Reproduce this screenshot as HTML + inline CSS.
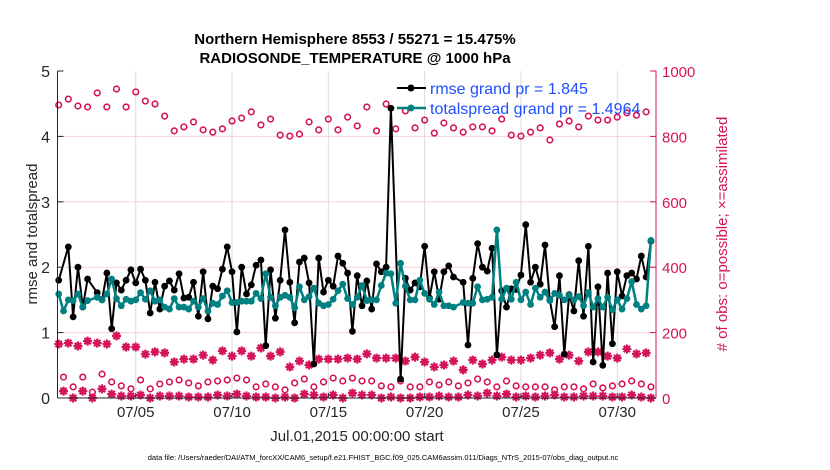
<!DOCTYPE html>
<html><head><meta charset="utf-8"><style>
html,body{margin:0;padding:0;background:#fff;}
svg{display:block;font-family:"Liberation Sans",sans-serif;}
</style></head><body>
<svg id="chart" width="830" height="470" viewBox="0 0 830 470">
<g id="grid"></g>
<g id="obs"></g>
<g id="lines"></g>
<g id="axes"></g>
<text x="355" y="44" text-anchor="middle" font-size="15" font-weight="bold">Northern Hemisphere 8553 / 55271 = 15.475%</text>
<text x="355" y="63" text-anchor="middle" font-size="15" font-weight="bold">RADIOSONDE_TEMPERATURE @ 1000 hPa</text>
<text x="357" y="441" text-anchor="middle" font-size="15" fill="#262626">Jul.01,2015 00:00:00 start</text>
<text transform="translate(37,234) rotate(-90)" text-anchor="middle" font-size="15" fill="#262626">rmse and totalspread</text>
<text transform="translate(727,234) rotate(-90)" text-anchor="middle" font-size="15" fill="#d4145a"># of obs: o=possible; ×=assimilated</text>
<text x="383" y="460" text-anchor="middle" font-size="7.5" fill="#000">data file: /Users/raeder/DAI/ATM_forcXX/CAM6_setup/f.e21.FHIST_BGC.f09_025.CAM6assim.011/Diags_NTrS_2015-07/obs_diag_output.nc</text>
<g>
<g>
<line x1="397" y1="88" x2="426" y2="88" stroke="#000" stroke-width="2"/><circle cx="411" cy="88" r="3.5" fill="#000"/>
<text x="430" y="94" font-size="16" fill="#1f4fff">rmse grand pr = 1.845</text></g>
<g>
<line x1="397" y1="108" x2="426" y2="108" stroke="#008080" stroke-width="2.5"/><circle cx="411" cy="108" r="3.5" fill="#008080"/>
<text x="430" y="114" font-size="16" fill="#1f4fff">totalspread grand pr = 1.4964</text></g>
</g>
</svg>
<script>
const xTickLabels = ["07/05","07/10","07/15","07/20","07/25","07/30"];
const xTickDays = [4,9,14,19,24,29];
const leftTicks = [0,1,2,3,4,5];
const rightTicks = [0,200,400,600,800,1000];
const rmse = [1.80,null,2.31,1.24,2.0,1.39,1.82,null,1.61,1.5,1.91,1.06,1.76,1.65,1.8,1.96,1.76,1.97,1.8,1.3,1.77,1.36,1.71,1.79,1.65,1.9,1.53,1.54,1.77,1.25,1.93,1.21,1.71,1.67,1.97,2.31,1.93,1.01,2.0,1.59,1.73,2.03,2.11,0.8,1.96,1.22,1.8,2.57,1.77,1.15,2.08,2.14,1.76,0.52,2.14,1.62,1.8,1.71,2.17,2.06,1.91,1.02,1.87,1.41,1.79,1.36,2.05,1.93,2.0,4.43,null,0.29,1.83,1.65,1.76,1.7,2.32,1.53,1.93,1.51,1.93,2.02,1.85,null,1.77,0.81,1.83,2.36,2.0,1.94,2.29,0.66,1.64,1.39,1.67,1.66,1.88,2.65,1.77,2.0,1.74,2.34,1.5,1.09,1.87,0.67,1.58,1.33,2.1,1.25,2.32,0.55,1.7,0.5,1.91,0.83,1.93,1.56,1.87,1.91,1.82,2.17,1.85,2.4];
const spread = [1.59,1.33,1.5,1.49,1.59,1.39,1.49,null,1.54,1.5,1.59,1.82,1.52,1.41,1.51,1.48,1.5,1.61,1.51,1.64,1.48,1.5,1.39,1.36,1.52,1.39,1.39,1.36,1.48,1.39,1.52,1.33,1.45,1.43,1.56,1.64,1.46,1.46,1.48,1.48,1.48,1.6,1.52,1.9,1.54,1.41,1.54,1.57,1.54,1.38,1.7,1.5,1.55,1.68,1.45,1.41,1.43,1.51,1.64,1.74,1.52,1.43,1.54,1.72,1.49,1.5,1.5,1.72,1.91,1.9,1.45,2.06,1.71,1.5,1.5,1.8,1.6,1.51,1.43,1.62,1.41,1.41,1.39,null,1.46,1.45,1.45,1.7,1.5,1.51,1.54,2.57,1.51,1.68,1.51,1.77,1.5,1.62,1.43,1.68,1.54,1.62,1.49,1.6,1.57,1.5,1.57,1.5,1.55,1.41,1.61,1.39,1.52,1.39,1.54,1.35,1.5,1.36,1.52,1.78,1.43,1.36,1.41,2.41];
// synoptic times (00/12Z, even samples) and off-synoptic (06/18Z, odd samples)
const possSyn = [896,914,893,890,933,890,945,890,936,908,899,862,817,829,844,820,813,823,847,856,875,835,853,804,801,807,844,820,853,820,859,832,890,817,899,823,878,826,850,810,841,826,813,829,829,817,853,804,801,813,826,789,838,847,829,862,850,850,859,872,865,875];
const assimSyn = [165,168,159,174,168,165,190,156,156,134,141,138,110,119,119,131,116,144,128,144,128,153,128,141,95,113,101,119,119,119,122,119,135,122,122,122,113,125,110,95,101,113,86,116,104,116,125,116,116,122,131,138,119,131,113,141,141,128,122,150,135,138];
const possOff = [64,34,64,18,73,49,37,28,55,28,43,49,55,46,37,49,52,55,61,55,34,43,34,25,46,58,34,49,61,52,61,52,52,37,34,52,34,34,49,40,49,37,46,58,49,34,52,37,34,34,34,25,34,34,28,43,31,37,43,52,43,34];
const assimOff = [21,0,21,0,28,12,6,6,9,0,6,6,6,3,3,3,9,6,12,6,3,3,0,3,0,12,9,3,9,0,15,9,9,0,3,0,0,3,3,6,3,3,9,6,15,6,12,3,6,3,6,9,3,3,6,6,6,3,3,9,3,0];

const NS="http://www.w3.org/2000/svg";
const L=57.5,R=656,T=71,B=398;
const xDay=d=>58.7+19.26*d;
const xIdx=i=>xDay(i*0.25);
const yL=v=>B-(v/5)*(B-T);
const yR=v=>B-(v/1000)*(B-T);
const PINK="#d4145a";
function mk(tag,attrs,parent){const e=document.createElementNS(NS,tag);for(const k in attrs)e.setAttribute(k,attrs[k]);parent.appendChild(e);return e;}
const grid=document.getElementById('grid'),obs=document.getElementById('obs'),lines=document.getElementById('lines'),axes=document.getElementById('axes');

xTickDays.forEach((d,k)=>{
  const gl=mk('line',{x1:xDay(d),x2:xDay(d),y1:T,y2:B,stroke:'#dcdcdc','stroke-width':1},grid);
  
  
  const tk=mk('line',{x1:xDay(d),x2:xDay(d),y1:B,y2:B-5,stroke:'#262626','stroke-width':1},axes);
  
  
  const t=mk('text',{x:xDay(d),y:417,'text-anchor':'middle','font-size':15,fill:'#262626'},axes);
  t.textContent=xTickLabels[k];
  
  
});
rightTicks.forEach(v=>{
  if(v>0&&v<1000){const gl=mk('line',{x1:L,x2:R,y1:yR(v),y2:yR(v),stroke:'#f2d3de','stroke-width':1},grid);
  
  }
  const tk=mk('line',{x1:R,x2:R-6,y1:yR(v),y2:yR(v),stroke:PINK,'stroke-width':1},axes);
  
  
  const t=mk('text',{x:662,y:yR(v)+6,'font-size':15,fill:PINK},axes);
  t.textContent=v;
  
  
});
leftTicks.forEach(v=>{
  const tk=mk('line',{x1:L,x2:L+6,y1:yL(v),y2:yL(v),stroke:'#262626','stroke-width':1},axes);
  
  
  const t=mk('text',{x:50,y:yL(v)+6,'text-anchor':'end','font-size':16,fill:'#262626'},axes);
  t.textContent=v;
  
  
});
const ax1=mk('line',{x1:L,x2:L,y1:T,y2:B,stroke:'#262626','stroke-width':1},axes);


const ax2=mk('line',{x1:L,x2:R,y1:B,y2:B,stroke:'#262626','stroke-width':1},axes);


const ax3=mk('line',{x1:R,x2:R,y1:T,y2:B,stroke:PINK,'stroke-width':1},axes);



function circ(x,y){const c=mk('circle',{cx:x,cy:y,r:2.8,fill:'none',stroke:PINK,'stroke-width':1.6},obs);
  
  }
function star(x,y){const p=mk('path',{d:`M${x-4.5} ${y}H${x+4.5}M${x} ${y-4.5}V${y+4.5}M${x-3.2} ${y-3.2}L${x+3.2} ${y+3.2}M${x-3.2} ${y+3.2}L${x+3.2} ${y-3.2}`,stroke:PINK,'stroke-width':2.2,fill:'none'},obs);
  
  }
possSyn.forEach((v,k)=>circ(xIdx(2*k),yR(v)));
possOff.forEach((v,k)=>circ(xIdx(2*k+1),yR(v)));
assimSyn.forEach((v,k)=>star(xIdx(2*k),yR(v)));
assimOff.forEach((v,k)=>star(xIdx(2*k+1),yR(v)));

function series(arr,color,w,name){
  let d='';arr.forEach((v,i)=>{if(v==null)return;d+=(d?'L':'M')+xIdx(i).toFixed(1)+' '+yL(v).toFixed(1);});
  const p=mk('path',{d:d,stroke:color,'stroke-width':w,fill:'none','stroke-linejoin':'round'},lines);
  
  
  arr.forEach((v,i)=>{if(v==null)return;
    const c=mk('circle',{cx:xIdx(i),cy:yL(v),r:3.4,fill:color},lines);
    
    });
}
series(rmse,'#000',2,'rmse');
series(spread,'#008080',2.5,'totalspread');
</script>
</body></html>
